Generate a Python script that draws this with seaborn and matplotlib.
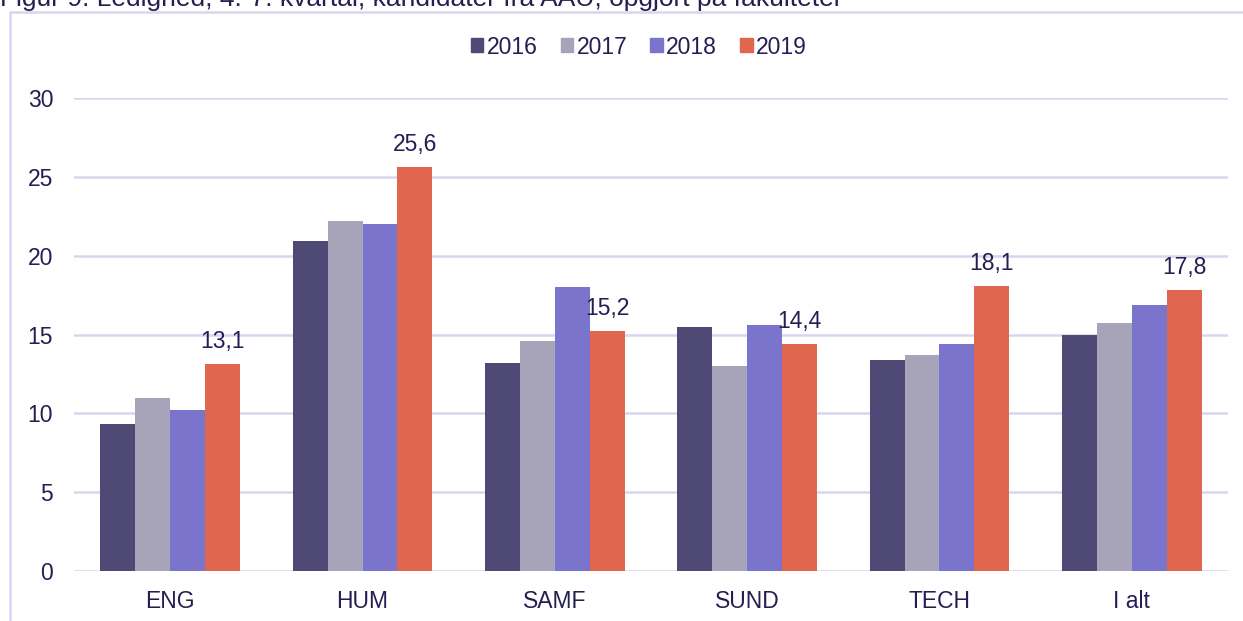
import pandas as pd
import matplotlib.pyplot as plt
import seaborn as sns
from matplotlib.lines import Line2D

# Data
faculties = ["ENG", "HUM", "SAMF", "SUND", "TECH", "I alt"]
years = ["2016", "2017", "2018", "2019"]
values_2016 = [9.3, 20.9, 13.2, 15.5, 13.4, 15.0]
values_2017 = [11.0, 22.2, 14.6, 13.0, 13.7, 15.7]
values_2018 = [10.2, 22.0, 18.0, 15.6, 14.4, 16.9]
values_2019 = [13.1, 25.6, 15.2, 14.4, 18.1, 17.8]

colors = ["#4E4A75", "#A7A3B9", "#7B74CC", "#E06650"]
text_color = "#231F52"
grid_color = "#D9D5F0"
fs = 16.5

# Long format for seaborn
rows = []
for year, vals in zip(years, [values_2016, values_2017, values_2018, values_2019]):
    for fac, v in zip(faculties, vals):
        rows.append({"fakultet": fac, "aar": year, "ledighed": v})
df = pd.DataFrame(rows)

sns.set_style("white")
plt.rcParams['font.family'] = ['Liberation Sans', 'DejaVu Sans']

fig = plt.figure(figsize=(12.43, 6.21), dpi=100)
ax = fig.add_axes([74 / 1243, 50 / 621, 1154 / 1243, 473 / 621])

sns.barplot(data=df, x="fakultet", y="ledighed", hue="aar", palette=colors,
            width=0.725, saturation=1, linewidth=0, errorbar=None, ax=ax)

ax.set_ylim(0, 30)
ax.set_yticks(range(0, 31, 5))
ax.set_xlabel("")
ax.set_ylabel("")
ax.grid(axis="y", color=grid_color, linewidth=1.8)
ax.set_axisbelow(True)
for side in ["top", "right", "left", "bottom"]:
    ax.spines[side].set_visible(False)
ax.tick_params(axis="both", length=0, labelsize=fs, colors=text_color)
ax.tick_params(axis="y", pad=15)
ax.tick_params(axis="x", pad=14)

# Only the 2019 bars carry value labels
ax.bar_label(ax.containers[3], labels=[f"{v:.1f}".replace(".", ",") for v in values_2019],
             padding=8, fontsize=fs, color=text_color)

ax.legend_.remove()
handles = [plt.Rectangle((0, 0), 1, 1, color=c) for c in colors]
fig.legend(handles, years, loc="center", bbox_to_anchor=(0.514, 1 - 47 / 621), ncol=4,
           frameon=False, fontsize=fs, handlelength=0.55, handleheight=0.55,
           handletextpad=0.15, columnspacing=1.0, labelcolor=text_color)

# Frame around the chart area
fig.add_artist(Line2D([10 / 1243, 10 / 1243], [0, 1 - 12 / 621], color=grid_color, lw=1.8))
fig.add_artist(Line2D([10 / 1243, 1], [1 - 12 / 621, 1 - 12 / 621], color=grid_color, lw=1.8))

# Title, cut off at the top edge as in the source
fig.text(0.0, 1 - 6 / 621, "Figur 9: Ledighed, 4.-7. kvartal, kandidater fra AAU, opgjort på fakulteter",
         fontsize=19, color=text_color, ha="left", va="baseline")

fig.savefig("out.png", dpi=100)
